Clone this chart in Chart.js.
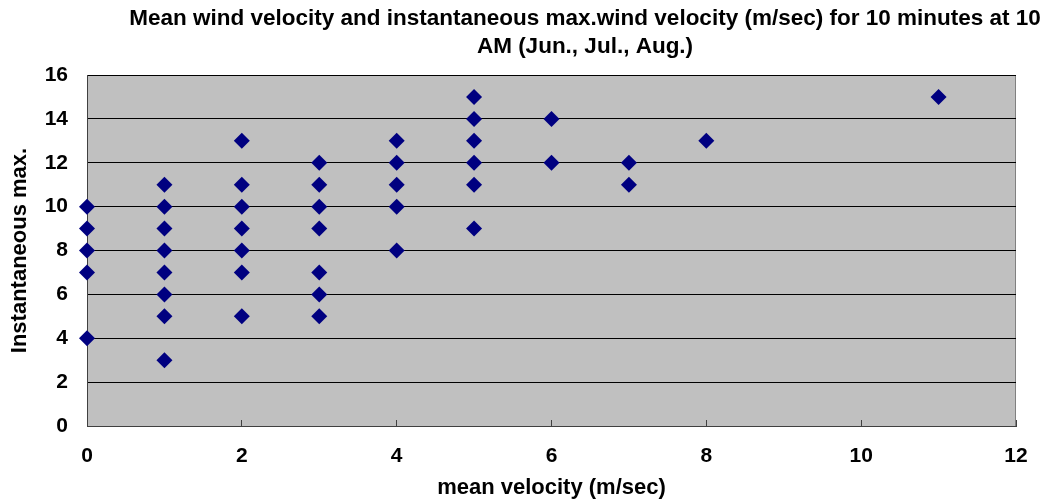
<!DOCTYPE html>
<html>
<head>
<meta charset="utf-8">
<script src="https://cdn.jsdelivr.net/npm/chart.js@4"></script>
<style>
  html, body { margin: 0; padding: 0; background: #fff; }
  #wrap { width: 1052px; height: 502px; }
</style>
</head>
<body>
<div id="wrap"><canvas id="myChart" width="1052" height="502"></canvas></div>
<script>
const ctx = document.getElementById('myChart');

// mean velocity (m/sec) per observation
const meanVelocity = [
    0, 0, 0, 0, 0,
    1, 1, 1, 1, 1, 1, 1, 1,
    2, 2, 2, 2, 2, 2, 2,
    3, 3, 3, 3, 3, 3, 3,
    4, 4, 4, 4, 4,
    5, 5, 5, 5, 5, 5,
    6, 6,
    7, 7,
    8,
    11
];
// instantaneous max. (m/sec) per observation
const instantMax = [
    10, 9, 8, 7, 4,
    11, 10, 9, 8, 7, 6, 5, 3,
    13, 11, 10, 9, 8, 7, 5,
    12, 11, 10, 9, 7, 6, 5,
    13, 12, 11, 10, 8,
    15, 14, 13, 12, 11, 9,
    14, 12,
    12, 11,
    13,
    15
];
const titleLines = [
    'Mean wind velocity and instantaneous max.wind velocity (m/sec) for 10 minutes at 10',
    'AM (Jun., Jul., Aug.)'
];
const xTitle = 'mean velocity (m/sec)';
const yTitle = 'Instantaneous max.';

const points = meanVelocity.map((x, i) => ({ x: x, y: instantMax[i] }));

const tickFont = { family: "'Liberation Sans', Arial, sans-serif", size: 21, weight: 'bold' };
const axisTitleFont = { family: "'Liberation Sans', Arial, sans-serif", size: 22, weight: 'bold' };

const plotBg = {
    id: 'plotBg',
    beforeDraw(chart) {
        const a = chart.chartArea, c = chart.ctx;
        c.save();
        c.fillStyle = '#c0c0c0';
        c.fillRect(a.left, a.top, a.right - a.left, a.bottom - a.top);
        c.strokeStyle = '#808080';
        c.lineWidth = 1;
        c.beginPath();
        c.moveTo(a.left, a.top + 0.5);
        c.lineTo(a.right - 0.5, a.top + 0.5);
        c.lineTo(a.right - 0.5, a.bottom);
        c.stroke();
        c.restore();
    },
    afterDraw(chart) {
        const c = chart.ctx;
        c.save();
        c.fillStyle = '#000';
        c.font = "bold 22.5px 'Liberation Sans', sans-serif";
        c.textAlign = 'center';
        c.textBaseline = 'middle';
        c.fillText(titleLines[0], 585, 19);
        c.fillText(titleLines[1], 585, 47);
        c.restore();
    }
};

new Chart(ctx, {
    type: 'scatter',
    data: {
        datasets: [{
            label: 'data',
            data: points,
            clip: false,
            pointStyle: 'rectRot',
            pointRadius: 8,
            pointHoverRadius: 8,
            backgroundColor: '#000080',
            borderColor: '#000080',
            borderWidth: 0
        }]
    },
    options: {
        responsive: false,
        animation: false,
        events: [],
        layout: {
            padding: { top: 75, right: 36, bottom: 0, left: 0 }
        },
        plugins: {
            legend: { display: false },
            tooltip: { enabled: false }
        },
        scales: {
            x: {
                type: 'linear',
                min: 0,
                max: 12,
                ticks: { stepSize: 2, color: '#000', font: tickFont, padding: 24, maxRotation: 0 },
                grid: { drawOnChartArea: false, drawTicks: true, tickLength: -6, color: '#404040' },
                border: { color: '#404040', width: 1 },
                title: { display: true, text: xTitle, color: '#000', font: axisTitleFont, padding: { top: 0, bottom: 1 } },
                afterFit: s => { s.height = 76; }
            },
            y: {
                min: 0,
                max: 16,
                ticks: { stepSize: 2, color: '#000', font: tickFont, padding: 19 },
                grid: { drawTicks: false, color: '#000', lineWidth: 1 },
                border: { color: '#404040', width: 1 },
                title: { display: true, text: yTitle, color: '#000', font: axisTitleFont, padding: { top: 7, bottom: 0 } },
                afterFit: s => { s.width = 87; }
            }
        }
    },
    plugins: [plotBg]
});
</script>
</body>
</html>
